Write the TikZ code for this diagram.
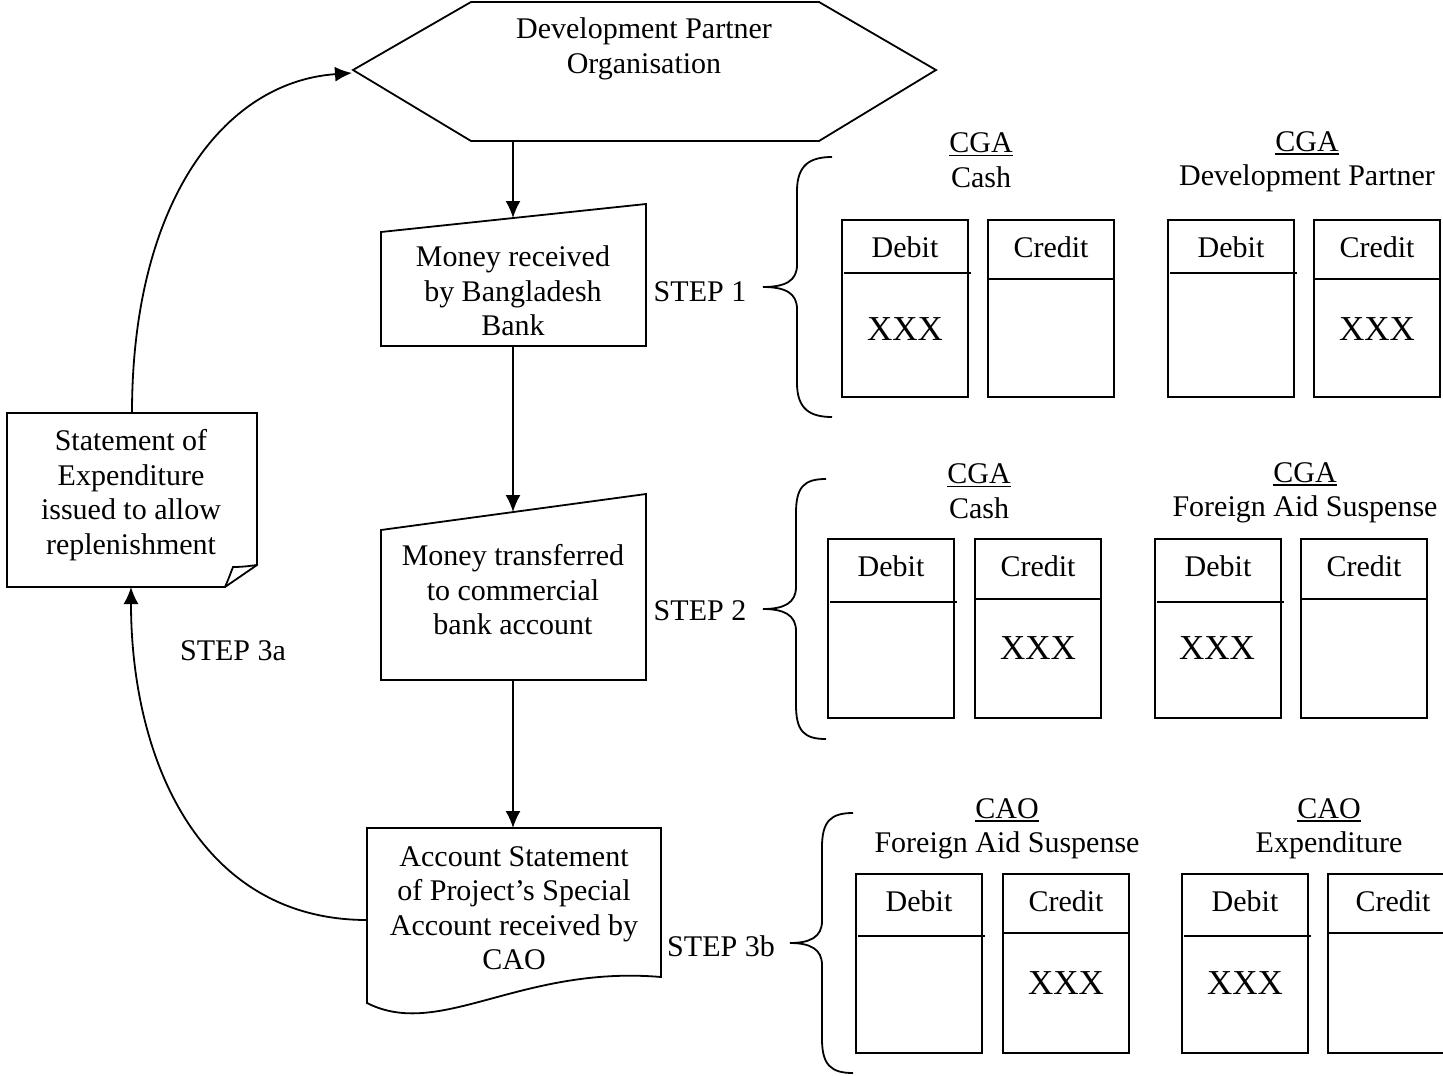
\documentclass[tikz,border=0pt]{standalone}
\usepackage{fontspec}
\setmainfont{Liberation Serif}
\usetikzlibrary{arrows.meta}

% underlined account class (CGA / CAO)
\newcommand{\uhead}[1]{\mbox{\setbox0\hbox{#1}\rlap{\rule[-3.5pt]{\wd0}{1.5pt}}\box0}}

% curly brace with its tip at (#1,#2); #3 = offset of the spine, #4 = offset of the ends
\newcommand{\curlybrace}[4]{%
  \draw[shift={(#1,#2)}] (#4,-130) .. controls ({#4-22},-130) and (#3,-122) .. (#3,-96)
    -- (#3,-22) .. controls (#3,-6) and ({#3-12},0) .. (0,0)
    .. controls ({#3-12},0) and (#3,6) .. (#3,22)
    -- (#3,96) .. controls (#3,122) and ({#4-22},130) .. (#4,130);}

% debit column of a T-account: name, left x, top, bottom, rule y
\newcommand{\debitcol}[5]{%
  \draw (#2,#3) rectangle ({#2+126},#4);
  \draw ({#2+2},#5) -- ({#2+129},#5);
  \node[lbl] (#1) at ({#2+63},{#3+27}) {Debit};}

% credit column of a T-account: name, left x, top, bottom, rule y
\newcommand{\creditcol}[5]{%
  \draw (#2,#3) rectangle ({#2+126},#4);
  \draw (#2,#5) -- ({#2+126},#5);
  \node[lbl] (#1) at ({#2+63},{#3+27}) {Credit};}

\begin{document}
\begin{tikzpicture}[x=1pt,y=-1pt,line width=1.8pt,
  lbl/.style={font=\fontsize{30}{34.5}\selectfont,align=center,inner sep=0pt},
  big/.style={font=\fontsize{35}{40}\selectfont,inner sep=0pt},
  flow/.style={-{Latex[length=17pt,width=15pt]}}]
\useasboundingbox (0,0) rectangle (1443,1076);

% ---- flow chart ----
\draw (353,70) -- (471,2) -- (819,2) -- (936,70) -- (819,141) -- (471,141) -- cycle;
\node[lbl] (dpo) at (644,49) {Development Partner\\Organisation};

\draw (381,232) -- (646,204) -- (646,346) -- (381,346) -- cycle;
\node[lbl] (mrb) at (513,291) {Money received\\by Bangladesh\\Bank};

\draw (381,530) -- (646,494) -- (646,680) -- (381,680) -- cycle;
\node[lbl] (mtb) at (513,590) {Money transferred\\to commercial\\bank account};

\draw (367,828) -- (661,828) -- (661,977) .. controls (520,965) and (440,1040) .. (367,1003) -- cycle;
\node[lbl] (asc) at (514,908) {Account Statement\\of Project's Special\\Account received by\\CAO};

\draw (7,413) -- (257,413) -- (257,565) -- (225,587) -- (7,587) -- cycle;
\draw (225,587) .. controls (229,578) and (231,572) .. (233,567) .. controls (242,567) and (250,566) .. (257,565);
\node[lbl] (soe) at (131,495) {Statement of\\Expenditure\\issued to allow\\replenishment};

\coordinate (dpoS) at (513,141);
\coordinate (dpoW) at (352,73);
\coordinate (mrbN) at (513,218);
\coordinate (mrbS) at (513,346);
\coordinate (mtbN) at (513,512);
\coordinate (mtbS) at (513,680);
\coordinate (ascN) at (513,828);
\coordinate (ascW) at (367,920);
\coordinate (soeN) at (132,413);
\coordinate (soeS) at (131,587);

\draw[flow] (dpoS) -- (mrbN);
\draw[flow] (mrbS) -- (mtbN);
\draw[flow] (mtbS) -- (ascN);
\draw[flow] (soeN) .. controls (132,205) and (222,82) .. (dpoW);
\draw[flow] (ascW) .. controls (200,920) and (131,760) .. (soeS);

\node[lbl] (s1) at (700,292) {STEP 1};
\node[lbl] (s2) at (700,611) {STEP 2};
\node[lbl] (s3a) at (233,651) {STEP 3a};
\node[lbl] (s3b) at (721,946) {STEP 3b};

% ---- braces ----
\curlybrace{763}{287}{34}{69}
\curlybrace{763}{609}{33}{63}
\curlybrace{790}{943}{32}{63}

% ---- step 1 ledgers ----
\node[lbl] (h1a) at (981,160) {\uhead{CGA}\\Cash};
\node[lbl] (h1b) at (1307,162) {\uhead{CGA}\\Development Partner};
\debitcol{d1a}{842}{220}{397}{273}
\creditcol{c1a}{988}{220}{397}{279}
\debitcol{d1b}{1168}{220}{397}{273}
\creditcol{c1b}{1314}{220}{397}{279}
\node[big] (x1a) at (905,329) {XXX};
\node[big] (x1b) at (1377,329) {XXX};

% ---- step 2 ledgers ----
\node[lbl] (h2a) at (979,491) {\uhead{CGA}\\Cash};
\node[lbl] (h2b) at (1305,493) {\uhead{CGA}\\Foreign Aid Suspense};
\debitcol{d2a}{828}{539}{718}{602}
\creditcol{c2a}{975}{539}{718}{599}
\debitcol{d2b}{1155}{539}{718}{602}
\creditcol{c2b}{1301}{539}{718}{599}
\node[big] (x2a) at (1038,648) {XXX};
\node[big] (x2b) at (1217,648) {XXX};

% ---- step 3 ledgers ----
\node[lbl] (h3a) at (1007,829) {\uhead{CAO}\\Foreign Aid Suspense};
\node[lbl] (h3b) at (1329,829) {\uhead{CAO}\\Expenditure};
\debitcol{d3a}{856}{874}{1053}{936}
\creditcol{c3a}{1003}{874}{1053}{933}
\debitcol{d3b}{1182}{874}{1053}{936}
% last credit column runs off the right edge
\draw (1443,874) -- (1328,874) -- (1328,1053) -- (1443,1053);
\draw (1328,933) -- (1443,933);
\node[lbl] (c3b) at (1393,901) {Credit};
\node[big] (x3a) at (1066,983) {XXX};
\node[big] (x3b) at (1245,983) {XXX};
\end{tikzpicture}
\end{document}
